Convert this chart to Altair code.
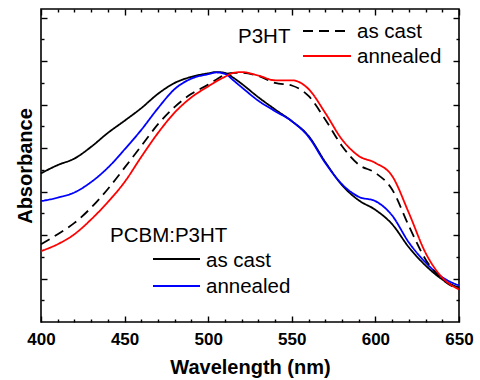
import altair as alt
import pandas as pd

wavelength = [400, 410, 420, 430, 440, 450, 460, 470, 480, 490, 500, 505, 510, 515,
              520, 530, 540, 550, 560, 570, 580, 590, 600, 610, 620, 630, 640, 650]
pcbm_as_cast = [3.42, 3.61, 3.76, 4.03, 4.35, 4.63, 4.92, 5.25, 5.50, 5.64, 5.72, 5.75, 5.73, 5.62,
                5.48, 5.17, 4.89, 4.62, 4.28, 3.68, 3.15, 2.80, 2.58, 2.25, 1.72, 1.30, 0.98, 0.79]
pcbm_annealed = [2.78, 2.86, 2.98, 3.22, 3.55, 3.97, 4.42, 4.92, 5.36, 5.60, 5.70, 5.74, 5.71, 5.56,
                 5.40, 5.09, 4.85, 4.62, 4.26, 3.66, 3.17, 2.88, 2.78, 2.45, 1.83, 1.37, 1.03, 0.84]
p3ht_as_cast = [1.79, 2.02, 2.28, 2.63, 3.06, 3.55, 4.05, 4.55, 4.95, 5.25, 5.46, 5.58, 5.69, 5.73,
                5.73, 5.66, 5.50, 5.44, 5.20, 4.66, 4.05, 3.62, 3.43, 3.05, 2.21, 1.44, 0.98, 0.75]
p3ht_annealed = [1.63, 1.79, 2.02, 2.36, 2.76, 3.22, 3.80, 4.35, 4.82, 5.17, 5.42, 5.54, 5.64, 5.73,
                 5.75, 5.67, 5.56, 5.56, 5.36, 4.81, 4.20, 3.82, 3.66, 3.36, 2.51, 1.59, 1.02, 0.75]

series_names = ["PCBM:P3HT as cast", "PCBM:P3HT annealed", "P3HT as cast", "P3HT annealed"]
series_values = [pcbm_as_cast, pcbm_annealed, p3ht_as_cast, p3ht_annealed]
series_colors = ["#000000", "#0000ff", "#000000", "#ff0000"]
series_dash = [[1, 0], [1, 0], [10, 6], [1, 0]]

x_major = [400, 450, 500, 550, 600, 650]
x_minor = [v for v in range(410, 650, 10) if v % 50 != 0]
y_major = [1, 2, 3, 4, 5, 6, 7]
y_minor = [0.5, 1.5, 2.5, 3.5, 4.5, 5.5, 6.5]

rows = []
for name, vals in zip(series_names, series_values):
    for w, a in zip(wavelength, vals):
        rows.append({"wl": w, "abs": a, "series": name})
df = pd.DataFrame(rows)
one = pd.DataFrame({"k": [0]})

FONT = "Liberation Sans"
W, H = 418, 313

xscale = alt.Scale(domain=[400, 650], nice=False, zero=False, padding=0)
yscale = alt.Scale(domain=[0, 7.2], nice=False, zero=False, padding=0)

def ax(orient, values, size, labels=False, title=None, **kw):
    return alt.Axis(orient=orient, values=values, tickSize=size, offset=-size,
                    domain=False, grid=False, labels=labels, title=title,
                    tickColor="black", tickWidth=1.4, **kw)

lines = alt.Chart(df).mark_line(strokeWidth=1.8, interpolate="monotone").encode(
    x=alt.X("wl:Q", scale=xscale,
            axis=ax("bottom", x_major, 6, labels=True, title="Wavelength (nm)",
                    labelFont=FONT, labelFontWeight="bold", labelFontSize=17,
                    labelColor="black", labelPadding=9, labelFlush=False,
                    titleFont=FONT, titleFontWeight="bold", titleFontSize=20,
                    titleColor="black", titlePadding=10)),
    y=alt.Y("abs:Q", scale=yscale,
            axis=ax("left", y_major, 6, title="Absorbance",
                    titleFont=FONT, titleFontWeight="bold", titleFontSize=20,
                    titleColor="black", titlePadding=5)),
    color=alt.Color("series:N", scale=alt.Scale(domain=series_names, range=series_colors), legend=None),
    strokeDash=alt.StrokeDash("series:N", scale=alt.Scale(domain=series_names, range=series_dash), legend=None),
    detail="series:N",
)

def ghost(xa, ya):
    return alt.Chart(df).mark_line(opacity=0).encode(
        x=alt.X("wl:Q", scale=xscale, axis=xa),
        y=alt.Y("abs:Q", scale=yscale, axis=ya),
        detail="series:N",
    )

g1 = ghost(ax("bottom", x_minor, 3), ax("left", y_minor, 3))
g2 = ghost(ax("top", x_major, 6), ax("right", y_major, 6))
g3 = ghost(ax("top", x_minor, 3), ax("right", y_minor, 3))

def sample(x1, x2, y, color, dash=None):
    kw = {"strokeDash": dash} if dash else {}
    return alt.Chart(one).mark_rule(color=color, strokeWidth=1.8, **kw).encode(
        x=alt.value(x1), x2=alt.value(x2), y=alt.value(y))

def label(text, x, y):
    return alt.Chart(one).mark_text(text=text, align="left", baseline="alphabetic",
                                    font=FONT, fontSize=20.5, color="black").encode(
        x=alt.value(x), y=alt.value(y))

legend = [
    label("P3HT", 197, 34),
    sample(262, 310, 22, "#000000", [10, 6]),
    label("as cast", 316, 29),
    sample(262, 310, 47, "#ff0000"),
    label("annealed", 316, 54),
    label("PCBM:P3HT", 69, 233),
    sample(112, 159, 250, "#000000"),
    label("as cast", 165, 258),
    sample(112, 159, 277, "#0000ff"),
    label("annealed", 165, 284),
]

chart = alt.layer(lines, g1, g2, g3, *legend).resolve_axis(
    x="independent", y="independent"
).properties(
    width=W, height=H,
    autosize=alt.AutoSizeParams(type="none"),
    padding={"left": 41, "top": 9, "right": 21, "bottom": 58},
).configure_view(stroke="black", strokeWidth=1.6)

chart.save("out.html", embed_options={"renderer": "svg", "actions": False})
